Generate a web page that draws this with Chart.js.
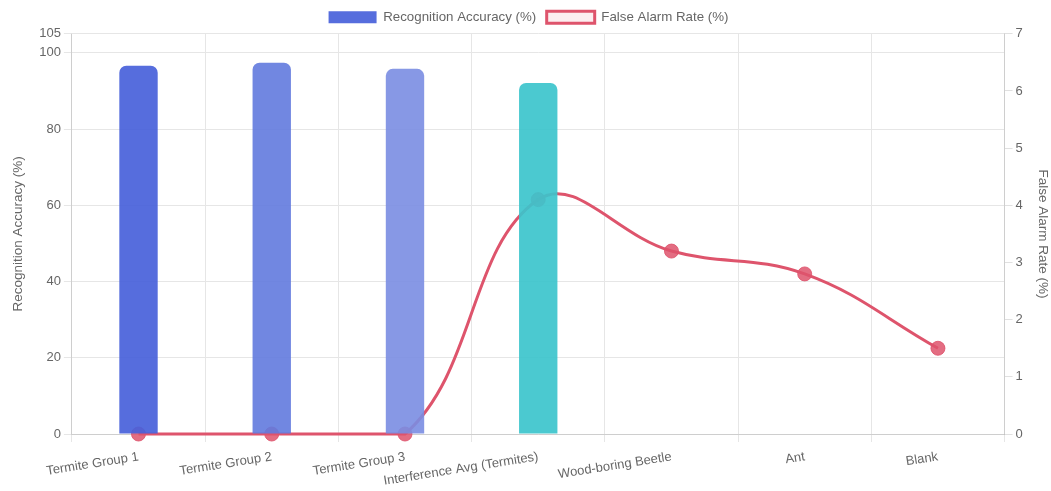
<!DOCTYPE html>
<html>
<head>
<meta charset="utf-8">
<script src="https://cdn.jsdelivr.net/npm/chart.js@4/dist/chart.umd.min.js"></script>
<style>
  html, body { margin: 0; padding: 0; background: #fff; }
  #wrap { width: 1051px; height: 491px; }
</style>
</head>
<body>
<div id="wrap"><canvas id="chart"></canvas></div>
<script>
// categories on the x axis
const categories = ['Termite Group 1', 'Termite Group 2', 'Termite Group 3', 'Interference Avg (Termites)', 'Wood-boring Beetle', 'Ant', 'Blank'];

// recognition accuracy (%) - bars, left axis
const accuracy = [96.6, 97.4, 95.8, 92.1, null, null, null];

// false alarm rate (%) - line, right axis
const falseAlarm = [0, 0, 0, 4.1, 3.2, 2.8, 1.5];

// bar colours, one per bar
const barColors = ['rgba(72, 97, 218, 0.92)', 'rgba(98, 122, 222, 0.9)', 'rgba(122, 141, 226, 0.9)', 'rgba(60, 196, 204, 0.92)'];
const lineColor = 'rgb(222, 84, 108)';

Chart.defaults.font.family = '"Liberation Sans", Arial, Helvetica, sans-serif';
Chart.defaults.color = '#666';

const ctx = document.getElementById('chart').getContext('2d');
const chart = new Chart(ctx, {
    type: 'bar',
    data: {
        labels: categories,
        datasets: [{
            label: 'Recognition Accuracy (%)',
            data: accuracy,
            backgroundColor: barColors,
            borderRadius: 7,
            borderSkipped: 'bottom',
            barPercentage: 0.36,
            categoryPercentage: 0.8,
            yAxisID: 'y',
            order: 1
        }, {
            type: 'line',
            label: 'False Alarm Rate (%)',
            data: falseAlarm,
            borderColor: lineColor,
            backgroundColor: 'rgba(222, 84, 108, 0.1)',
            borderWidth: 3,
            tension: 0.4,
            clip: false,
            pointRadius: 7,
            pointHoverRadius: 8,
            pointBackgroundColor: 'rgba(222, 84, 108, 0.85)',
            pointBorderColor: 'rgba(222, 84, 108, 0.85)',
            pointBorderWidth: 1,
            yAxisID: 'y1',
            order: 2
        }]
    },
    options: {
        responsive: true,
        maintainAspectRatio: false,
        animation: false,
        layout: { padding: { left: 6, right: 0, top: 0, bottom: -5 } },
        plugins: {
            legend: {
                position: 'top',
                labels: {
                    boxWidth: 48,
                    boxHeight: 12,
                    padding: 10.5,
                    font: { size: 13.3 },
                    generateLabels: (c) => {
                        // the bar legend box uses the first bar colour
                        const items = Chart.defaults.plugins.legend.labels.generateLabels(c);
                        items[0].fillStyle = barColors[0];
                        items[0].strokeStyle = barColors[0];
                        items[0].lineWidth = 0;
                        return items;
                    }
                }
            },
            tooltip: { enabled: false }
        },
        scales: {
            x: {
                grid: { color: '#e6e6e6' },
                ticks: { font: { size: 13 }, padding: 7, maxRotation: 50, autoSkip: false }
            },
            y: {
                position: 'left',
                min: 0,
                max: 105,
                ticks: { stepSize: 20, font: { size: 13 } },
                grid: { color: '#e6e6e6' },
                title: { display: true, text: 'Recognition Accuracy (%)', font: { size: 13.5 }, padding: { top: 4, bottom: 10 } }
            },
            y1: {
                position: 'right',
                min: 0,
                max: 7,
                ticks: { stepSize: 1, font: { size: 13 } },
                grid: { drawOnChartArea: false, color: '#e0e0e0' },
                title: { display: true, text: 'False Alarm Rate (%)', font: { size: 13.5 }, padding: { top: 0, bottom: 9 } }
            }
        }
    }
});
</script>
</body>
</html>
